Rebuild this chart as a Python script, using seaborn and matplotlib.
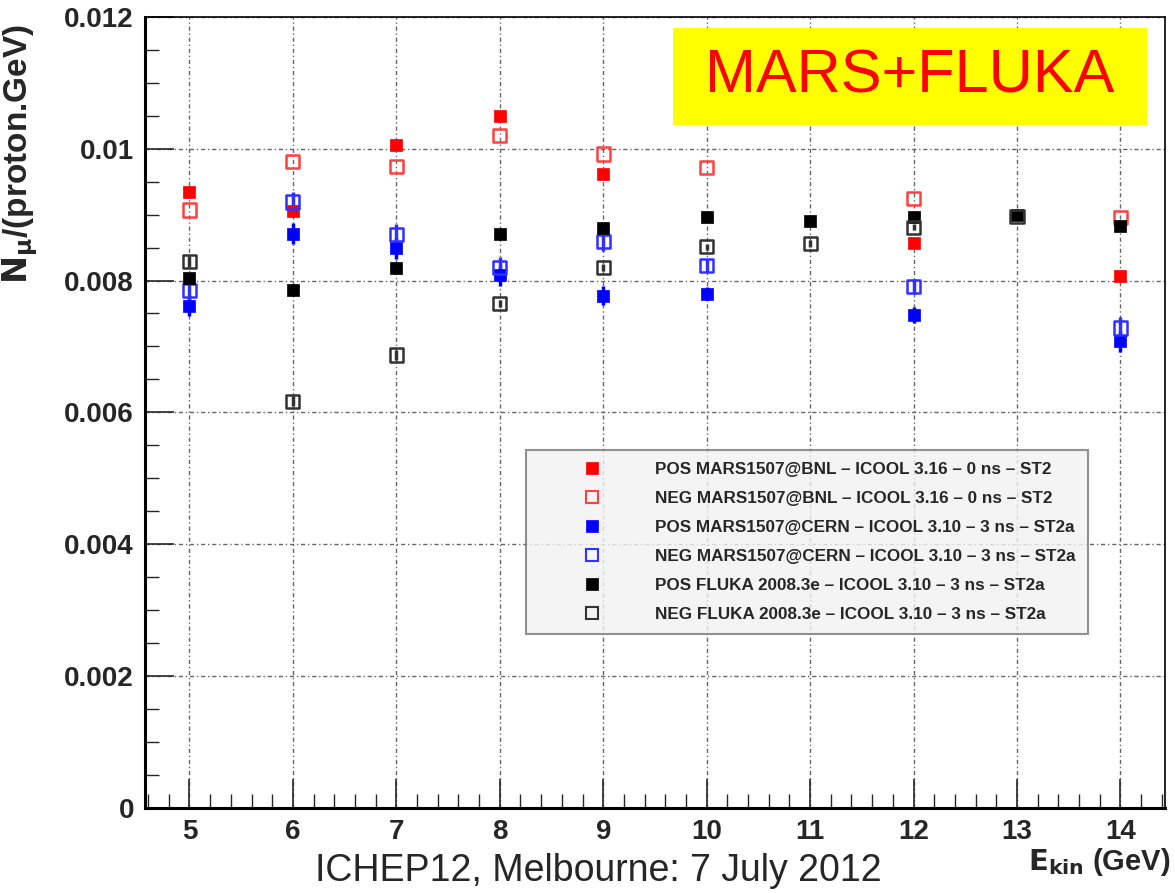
import numpy as np
import pandas as pd
import matplotlib
matplotlib.use("Agg")
import matplotlib.pyplot as plt
from matplotlib.ticker import MultipleLocator, FuncFormatter
from matplotlib.lines import Line2D
from matplotlib.patches import Rectangle
import seaborn as sns

# energies (GeV)
e_mars = [5, 6, 7, 8, 9, 10, 12, 14]
e_fluka = [5, 6, 7, 8, 9, 10, 11, 12, 13, 14]

# yields N_mu / (proton.GeV)
pos_bnl = [0.00935, 0.00906, 0.01006, 0.01050, 0.00961, np.nan, 0.00857, 0.00807]
neg_bnl = [0.00907, 0.00981, 0.00973, 0.01020, 0.00992, 0.00972, 0.00924, 0.00896]
pos_cern = [0.00762, 0.00871, 0.00849, 0.00808, 0.00777, 0.00780, 0.00748, 0.00708]
neg_cern = [0.00785, 0.00919, 0.00870, 0.00820, 0.00859, 0.00823, 0.00791, 0.00728]
pos_fluka = [0.00804, 0.00786, 0.00819, 0.00871, 0.00879, 0.00896, 0.00891, 0.00897, 0.00900, 0.00882]
neg_fluka = [0.00829, 0.00617, 0.00687, 0.00765, 0.00820, 0.00851, 0.00856, 0.00881, 0.00897, np.nan]

err_cern = [0.00016, 0.00016, 0.00016, 0.00016, 0.00014, 0.00010, 0.00012, 0.00016]
err_fluka = [0.00008, 0.00008, 0.00008, 0.00005, 0.00005, 0.00005, 0.00005, 0.00005, 0.00005, 0.00005]

labels = ["POS MARS1507@BNL \u2013 ICOOL 3.16 \u2013 0 ns \u2013 ST2",
          "NEG MARS1507@BNL \u2013 ICOOL 3.16 \u2013 0 ns \u2013 ST2",
          "POS MARS1507@CERN \u2013 ICOOL 3.10 \u2013 3 ns \u2013 ST2a",
          "NEG MARS1507@CERN \u2013 ICOOL 3.10 \u2013 3 ns \u2013 ST2a",
          "POS FLUKA 2008.3e \u2013 ICOOL 3.10 \u2013 3 ns \u2013 ST2a",
          "NEG FLUKA 2008.3e \u2013 ICOOL 3.10 \u2013 3 ns \u2013 ST2a"]

series = [
    (e_mars, pos_bnl, None, "#ff0000", True),
    (e_mars, neg_bnl, None, "#ff4040", False),
    (e_mars, pos_cern, err_cern, "#0000ff", True),
    (e_mars, neg_cern, err_cern, "#3030ff", False),
    (e_fluka, pos_fluka, err_fluka, "#000000", True),
    (e_fluka, neg_fluka, err_fluka, "#333333", False),
]

sns.set_style("white")
plt.rcParams['font.family'] = ['Liberation Sans', 'DejaVu Sans']

fig = plt.figure(figsize=(11.75, 8.93), dpi=100)
ax = fig.add_axes([0.1234, 0.0952, 0.868, 0.886])

for (x, y, err, col, filled), lab in zip(series, labels):
    df = pd.DataFrame({"E": x, "N": y})
    if err is not None:
        ax.errorbar(df["E"], df["N"], yerr=err, fmt="none", ecolor=col,
                    elinewidth=2.5, capsize=0, zorder=2)
    if filled:
        sns.scatterplot(data=df, x="E", y="N", ax=ax, marker="s", s=85,
                        color=col, edgecolor=col, linewidth=0.5, zorder=3)
    else:
        sns.scatterplot(data=df, x="E", y="N", ax=ax, marker="s", s=90,
                        facecolor="none", edgecolor=col, linewidth=1.8, zorder=3)

ax.set_xlim(4.57, 14.43)
ax.set_ylim(0, 0.012)
ax.xaxis.set_major_locator(MultipleLocator(1))
ax.xaxis.set_minor_locator(MultipleLocator(0.2))
ax.yaxis.set_major_locator(MultipleLocator(0.002))
ax.yaxis.set_minor_locator(MultipleLocator(0.0005))
ax.yaxis.set_major_formatter(FuncFormatter(lambda v, p: "0" if v == 0 else f"{v:g}"))
ax.tick_params(which="major", direction="in", length=21, width=1.2,
               labelsize=20, pad=8, bottom=True, left=True, top=False, right=False)
ax.tick_params(which="minor", direction="in", length=10, width=1.0,
               bottom=True, left=True, top=False, right=False)
for lbl in ax.get_xticklabels() + ax.get_yticklabels():
    lbl.set_fontweight("bold")

ax.grid(True, which="major", color="#666666", linestyle=(0, (3, 2, 1, 2)), linewidth=1.0)
for side in ["left", "bottom"]:
    ax.spines[side].set_linewidth(2.2)
for side in ["top", "right"]:
    ax.spines[side].set_linewidth(1.2)
for s in ax.spines.values():
    s.set_color("black")

ax.set_xlabel("")
ax.set_ylabel(r"$\mathbf{N_{\mu}}$/(proton.GeV)", fontsize=24, fontweight="bold")
ax.yaxis.set_label_coords(-0.103, 0.826)

fig.text(0.996, 0.035, r"$\mathbf{E_{kin}}$ (GeV)", ha="right", va="center",
         fontsize=21, fontweight="bold")
fig.text(0.509, 0.025, "ICHEP12, Melbourne: 7 July 2012", ha="center", va="center",
         fontsize=27)

# title box
ax.add_patch(Rectangle((0.518, 0.863), 0.464, 0.123, transform=ax.transAxes,
                       facecolor="#ffff00", edgecolor="none", zorder=5))
ax.text(0.75, 0.924, "MARS+FLUKA", transform=ax.transAxes, ha="center", va="center",
        fontsize=44, color="#ff0000", zorder=6)

handles = []
for (x, y, err, col, filled), lab in zip(series, labels):
    handles.append(Line2D([], [], linestyle="none", marker="s", markersize=9,
                          markerfacecolor=col if filled else "none",
                          markeredgecolor=col, markeredgewidth=1.5 if not filled else 0.5,
                          label=lab))
leg = ax.legend(handles=handles, loc="upper left", bbox_to_anchor=(0.374, 0.452),
                fontsize=12.3, frameon=True, fancybox=False, shadow=False,
                borderpad=0.7, labelspacing=0.82, handletextpad=0.55,
                borderaxespad=0, handlelength=6.3)
leg.get_frame().set_facecolor("#f2f2f2")
leg.get_frame().set_edgecolor("#777777")
leg.get_frame().set_linewidth(1.5)
for t in leg.get_texts():
    t.set_fontweight("bold")
leg.set_zorder(7)

fig.savefig("out.png", dpi=100)
